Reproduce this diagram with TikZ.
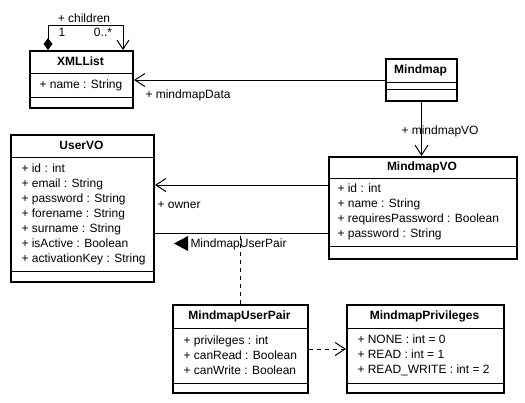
\documentclass[tikz,border=0pt]{standalone}
\usepackage{fontspec}
\setmainfont{Liberation Sans}
\usetikzlibrary{arrows.meta}

\begin{document}
\begin{tikzpicture}[x=1pt, y=-1pt, line width=1pt, font=\fontsize{12}{15}\selectfont,
  class/.style={draw, line width=2pt, inner sep=0pt, anchor=north west},
  title/.style={font=\fontsize{12}{15}\selectfont\bfseries, inner sep=0pt},
  attrs/.style={align=left, anchor=west, inner sep=0pt},
  lbl/.style={inner sep=0pt},
  open/.style={-{Straight Barb[length=10pt,width=13pt]}},
  dep/.style={dash pattern=on 4pt off 4pt}]
\useasboundingbox (0,0) rectangle (525,402);
\node[class, minimum width=103, minimum height=57](xmllist) at (29,50) {};
\draw (xmllist.north west) ++(0,23) -- +(103,0);
\draw (xmllist.north west) ++(0,47) -- +(103,0);
\node[title](xmllisttitle) at (80.5,61.5) {XMLList};
\node[attrs](xmllistattr) at (39,85) {+ name : String};
\node[class, minimum width=71, minimum height=42](mindmap) at (385,58) {};
\draw (mindmap.north west) ++(0,24) -- +(71,0);
\draw (mindmap.north west) ++(0,31) -- +(71,0);
\node[title](mindmaptitle) at (420.5,70) {Mindmap};
\node[class, minimum width=188, minimum height=102](mindmapvo) at (328,156) {};
\draw (mindmapvo.north west) ++(0,22) -- +(188,0);
\draw (mindmapvo.north west) ++(0,90) -- +(188,0);
\node[title](mindmapvotitle) at (422,167) {MindmapVO};
\node[attrs](mindmapvoattr) at (337,212) {+ id : int\\+ name : String\\+ requiresPassword : Boolean\\+ password : String};
\node[class, minimum width=143, minimum height=147](uservo) at (10,134) {};
\draw (uservo.north west) ++(0,23) -- +(143,0);
\draw (uservo.north west) ++(0,137) -- +(143,0);
\node[title](uservotitle) at (81.5,145.5) {UserVO};
\node[attrs](uservoattr) at (21,214) {+ id : int\\+ email : String\\+ password : String\\+ forename : String\\+ surname : String\\+ isActive : Boolean\\+ activationKey : String};
\node[class, minimum width=135, minimum height=88](pairuser) at (172,304) {};
\draw (pairuser.north west) ++(0,24) -- +(135,0);
\draw (pairuser.north west) ++(0,79) -- +(135,0);
\node[title](pairusertitle) at (239.5,316) {MindmapUserPair};
\node[attrs](pairuserattr) at (183,355.5) {+ privileges : int\\+ canRead : Boolean\\+ canWrite : Boolean};
\node[class, minimum width=157, minimum height=88](privileges) at (346,304) {};
\draw (privileges.north west) ++(0,24) -- +(157,0);
\draw (privileges.north west) ++(0,79) -- +(157,0);
\node[title](privilegestitle) at (424.5,316) {MindmapPrivileges};
\node[attrs](privilegesattr) at (357,355.5) {+ NONE : int = 0\\+ READ : int = 1\\+ READ\_WRITE : int = 2};
\coordinate (owner) at (328,185);
\coordinate (pair) at (328,233);
\draw[{Diamond[length=12pt,width=9pt]}-{Straight Barb[length=9pt,width=12pt]}] ([xshift=19pt]xmllist.north west) -- ++(0,-25) -| ([xshift=-11pt]xmllist.north east);
\node[lbl](children) at (84,18) {+ children};
\node[lbl](one) at (62,32) {1};
\node[lbl](many) at (103,32) {0..*};
\draw[open] (mindmap.west) -- (mindmap.west -| xmllist.east);
\node[lbl, anchor=west](mindmapdata) at (145,95) {+ mindmapData};
\draw[open] (mindmap.south) -- (mindmap.south |- mindmapvo.north);
\node[lbl, anchor=west](mindmapvolbl) at (401,131) {+ mindmapVO};
\draw[open] (owner) -- (owner -| uservo.east);
\node[lbl, anchor=west](ownerlbl) at (157,205) {+ owner};
\draw (pair) -- (pair -| uservo.east);
\fill (174,243.5) -- (188,236) -- (188,251) -- cycle;
\node[lbl, anchor=west](pairlbl) at (190,244) {MindmapUserPair};
\draw[dep] (pairuser.north) -- (pairuser.north |- pair);
\draw[dep, open] (pairuser.east) -- (privileges.west);
\end{tikzpicture}
\end{document}
